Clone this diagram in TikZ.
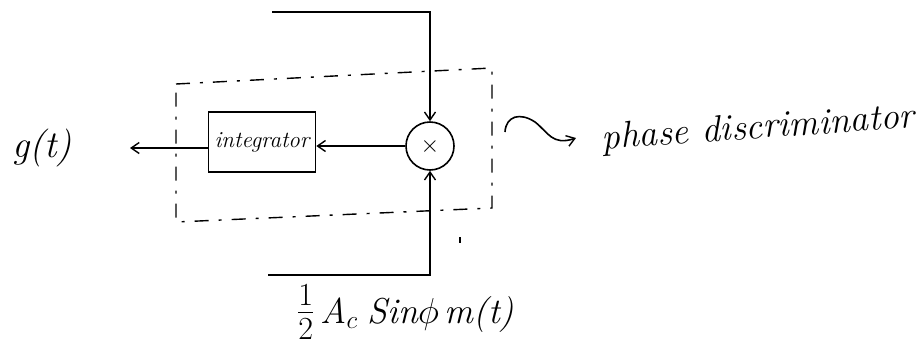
\RequirePackage{fix-cm}
\documentclass[tikz,border=0pt]{standalone}
\usepackage{fontspec}
\usetikzlibrary{arrows.meta}
\begin{document}
\begin{tikzpicture}[x=1pt,y=-1pt,
  wire/.style={line width=1.6pt},
  arr/.style={wire,-{Straight Barb[length=8pt,width=11pt,line width=1.4pt]}},
  dbox/.style={line width=1.4pt,dash pattern=on 14pt off 10pt on 3pt off 10pt},
  lbl/.style={inner sep=0pt}]
\useasboundingbox (0,0) rectangle (924,346);
% dashed phase discriminator box
\draw[dbox] (176,84) -- (492,68) -- (492,208) -- (176,222) -- cycle;
% multiplier
\node[draw,circle,line width=1.6pt,minimum size=48pt,inner sep=0pt] (mul) at (430,146) {\fontsize{24}{24}\selectfont$\times$};
% integrator
\node[draw,line width=1.6pt,minimum width=107pt,minimum height=60pt,inner sep=0pt] (int) at (262,142) {\fontsize{23}{23}\selectfont\itshape integrator};
% inputs
\coordinate (tl) at (272,12);
\coordinate (tr) at (mul.center |- tl);
\draw[arr] (tl) -- (tr) -- (mul.north);
\coordinate (bl) at (268,275);
\coordinate (br) at (mul.center |- bl);
\draw[arr] (bl) -- (br) -- (mul.south);
% mixer to integrator
\draw[arr] (mul.west) -- (int.east |- mul.west);
% output
\node[lbl,font=\fontsize{38}{38}\selectfont\itshape] (g) at (42,148) {g(t)};
\coordinate (gout) at (130,148);
\draw[arr] (int.west |- gout) -- (gout);
% stray tick
\draw[line width=1.4pt] (460,237) -- (460,243);
% squiggle to label
\node[lbl,font=\fontsize{37}{37}\selectfont\itshape,rotate=4,anchor=west] (pd) at (602,140) {phase discriminator};
\coordinate (sq) at (505,132);
\coordinate (sqe) at (576,138);
\draw[arr] (sq) .. controls (506,116) and (520,112) .. (535,122) .. controls (548,132) and (552,146) .. (sqe);
% bottom label
\node[lbl,font=\fontsize{36}{36}\selectfont\itshape,anchor=west] (sig) at (297,312) {{\fontsize{46}{46}\selectfont$\frac{1}{2}$}\,A$_c$\;Sin$\phi$\,m(t)};
\end{tikzpicture}
\end{document}
